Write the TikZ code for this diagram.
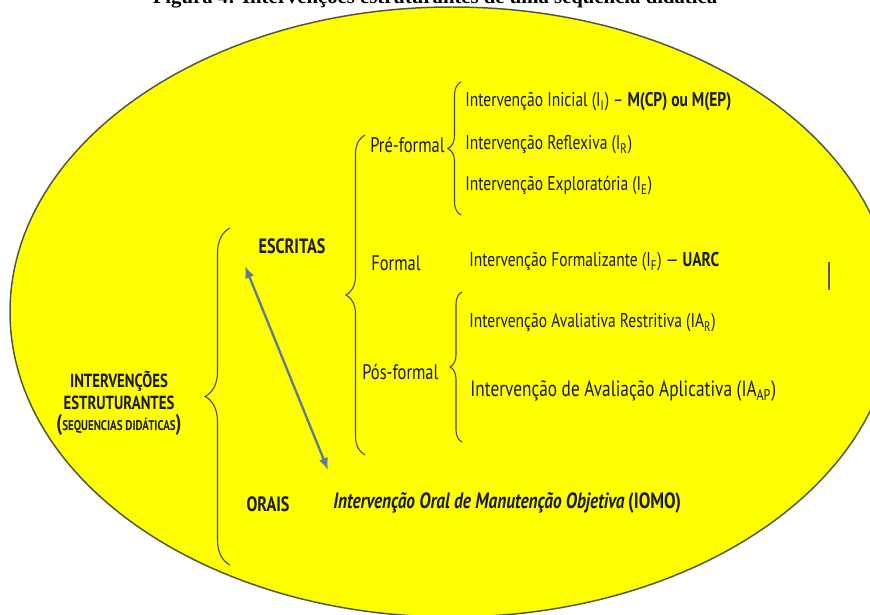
\documentclass[tikz,border=0pt]{standalone}
\usepackage{fontspec}
\setmainfont{PT Sans}[FakeStretch=0.78]
\newfontfamily\titlefont{Liberation Serif}
\usetikzlibrary{arrows.meta, decorations.pathreplacing, positioning}
\definecolor{discyellow}{RGB}{255, 255, 0}
\definecolor{discedge}{RGB}{82, 90, 56}
\definecolor{bracegray}{RGB}{70, 70, 40}
\definecolor{arrowblue}{RGB}{92, 124, 148}
\definecolor{inktext}{RGB}{28, 28, 20}

\begin{document}
\begin{tikzpicture}[
  item/.style={anchor=west, inner sep=0pt, text=inktext, font=\fontsize{11.3}{13}\selectfont},
  phase/.style={anchor=west, inner sep=0pt, text=inktext, font=\fontsize{12}{14}\selectfont},
  kind/.style={inner sep=0pt, text=inktext, font=\bfseries\fontsize{11.8}{14}\selectfont},
  curly/.style={draw=bracegray, line width=0.6pt, decorate, decoration={brace, amplitude=#1}},
]
  \useasboundingbox (0, 0) rectangle (17.4, -12.3);
  \clip (0, 0) rectangle (17.4, -12.3);

  % title, cut by the top edge
  \node[anchor=base, inner sep=0pt, font=\titlefont\bfseries\fontsize{11.8}{13}\selectfont] (title) at (8.7, -0.08) {Figura 4: Intervenções estruturantes de uma sequência didática};

  \draw[fill=discyellow, draw=discedge, line width=0.85pt] (9.04, -6.24) ellipse [x radius=8.84, y radius=6.1];
  \draw[gray!70!black, line width=0.6pt] (16.58, -5.24) -- (16.58, -5.80);

  % left column
  \node[align=center, inner sep=0pt, text=inktext, font=\bfseries\fontsize{10.8}{12.4}\selectfont] (estr) at (2.38, -8.07) {INTERVENÇÕES\\ESTRUTURANTES\\{\fontsize{13}{12}\selectfont(}{\fontsize{8}{9}\selectfont SEQUENCIAS DIDÁTICAS}{\fontsize{13}{12}\selectfont)}};
  \node[kind] (escr) at (5.84, -4.92) {ESCRITAS};
  \node[kind] (orais) at (5.36, -10.08) {ORAIS};

  % phases
  \node[phase] (pre) at (7.40, -2.90) {Pré-formal};
  \node[phase] (form) at (7.42, -5.26) {Formal};
  \node[phase] (pos) at (7.24, -7.44) {Pós-formal};

  % interventions
  \node[item] (ini) at (9.30, -2.04) {Intervenção Inicial (I\textsubscript{I}) – \textbf{M(CP) ou M(EP)}};
  \node[item] (refl) at (9.30, -2.90) {Intervenção Reflexiva (I\textsubscript{R})};
  \node[item] (expl) at (9.30, -3.72) {Intervenção Exploratória (I\textsubscript{E})};
  \node[item] (fmz) at (9.38, -5.24) {Intervenção Formalizante (I\textsubscript{F}) — \textbf{UARC}};
  \node[item] (restr) at (9.38, -6.46) {Intervenção Avaliativa Restritiva (IA\textsubscript{R})};
  \node[item, font=\fontsize{12.6}{15}\selectfont] (aplic) at (9.40, -7.82) {Intervenção de Avaliação Aplicativa (IA\textsubscript{AP})};
  \node[item, font=\bfseries\fontsize{12.6}{15}\selectfont] (iomo) at (6.66, -10.06) {\textit{Intervenção Oral de Manutenção Objetiva}\,(IOMO)};

  % braces
  \draw[curly=0.5cm] (4.60, -11.30) -- (4.60, -4.56);
  \draw[curly=0.38cm] (7.30, -9.10) -- (7.30, -2.70);
  \draw[curly=0.26cm] (9.22, -4.30) -- (9.22, -1.64);
  \draw[curly=0.24cm] (9.24, -8.84) -- (9.24, -5.84);

  % escritas <-> orais
  \coordinate (wtop) at (4.90, -5.32);
  \coordinate (wbot) at (6.56, -9.40);
  \draw[arrowblue, line width=1.3pt, {Latex[length=2.4mm, width=1.9mm]}-{Latex[length=2.4mm, width=1.9mm]}] (wtop) -- (wbot);
\end{tikzpicture}
\end{document}
